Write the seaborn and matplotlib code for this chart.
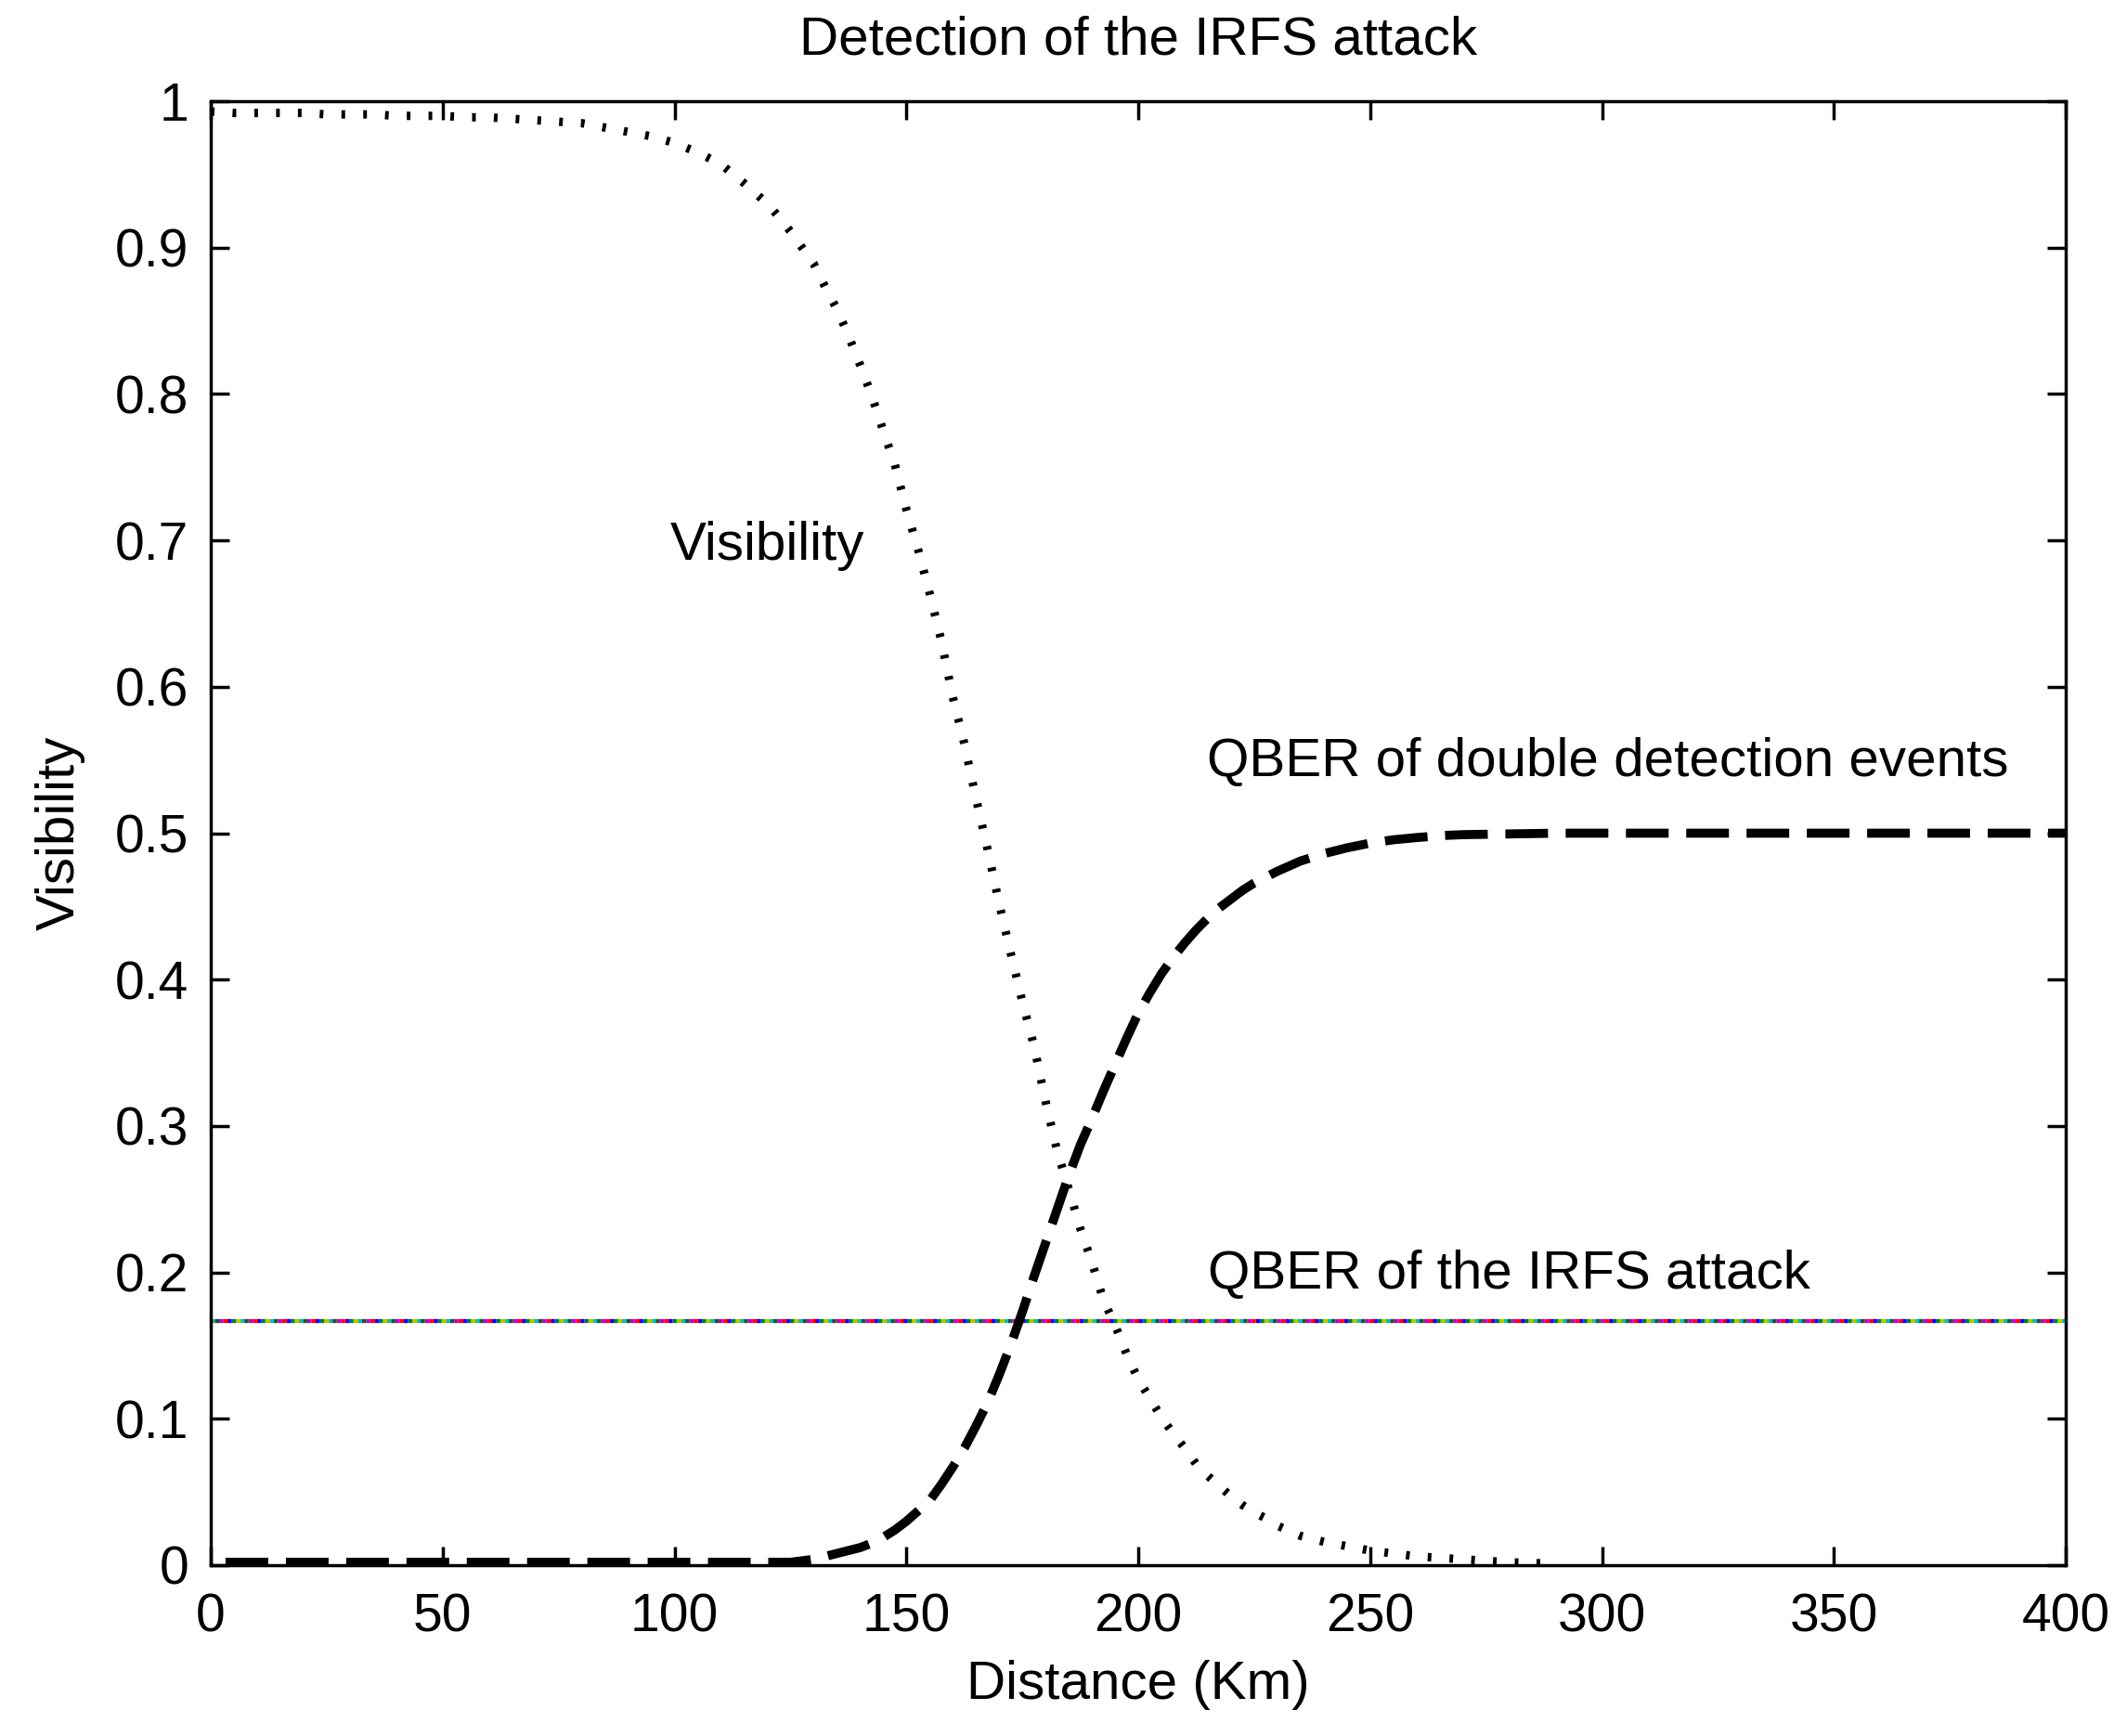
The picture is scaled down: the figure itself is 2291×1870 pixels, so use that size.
import numpy as np
import pandas as pd
import matplotlib
matplotlib.use("Agg")
import matplotlib.pyplot as plt
import seaborn as sns

# ---------------- data ----------------
distance_km = [0, 5, 10, 15, 20, 25, 30, 35, 40, 45, 50, 55, 60, 65, 70, 75, 80, 85, 90, 95,
               100, 105, 110, 115, 120, 122.5, 125, 127.5, 130, 132.5, 135, 137.5, 140, 142.5,
               145, 147.5, 150, 152.5, 155, 157.5, 160, 162.5, 165, 167.5, 170, 172.5, 175,
               177.5, 180, 182.5, 185, 187.5, 190, 192.5, 195, 197.5, 200, 202.5, 205, 207.5,
               210, 212.5, 215, 217.5, 220, 222.5, 225, 227.5, 230, 235, 240, 245, 250, 255,
               260, 265, 270, 280, 290, 300, 320, 340, 360, 380, 400]

# visibility: beyond ~290 km the curve lies under the x axis (not visible) -> NaN
visibility = [0.993, 0.992, 0.992, 0.992, 0.992, 0.991, 0.991, 0.991, 0.990, 0.990, 0.990,
              0.989, 0.989, 0.988, 0.987, 0.986, 0.985, 0.982, 0.979, 0.976,
              0.9715, 0.965, 0.957, 0.944, 0.930, 0.921, 0.911, 0.900, 0.889, 0.873,
              0.858, 0.840, 0.820, 0.799, 0.775, 0.752, 0.721, 0.694, 0.664, 0.632,
              0.593, 0.561, 0.524, 0.489, 0.452, 0.418, 0.385, 0.355, 0.317, 0.283,
              0.257, 0.230, 0.207, 0.181, 0.164, 0.144, 0.127, 0.114, 0.101, 0.090,
              0.080, 0.069, 0.061, 0.054, 0.047, 0.041, 0.036, 0.032, 0.027, 0.020,
              0.016, 0.013, 0.010, 0.008, 0.006, 0.005, 0.004, 0.002, 0.001, np.nan,
              np.nan, np.nan, np.nan, np.nan, np.nan]

qber_double = [0.002, 0.002, 0.002, 0.002, 0.002, 0.002, 0.002, 0.002, 0.002, 0.002, 0.002,
               0.002, 0.002, 0.002, 0.002, 0.002, 0.002, 0.002, 0.002, 0.002,
               0.002, 0.002, 0.002, 0.002, 0.002, 0.002, 0.002, 0.003, 0.004, 0.006,
               0.008, 0.010, 0.012, 0.015, 0.019, 0.024, 0.030, 0.037, 0.044, 0.055,
               0.067, 0.080, 0.095, 0.111, 0.130, 0.1505, 0.173, 0.197, 0.220, 0.243,
               0.266, 0.287, 0.305, 0.324, 0.342, 0.360, 0.377, 0.391, 0.404, 0.415,
               0.425, 0.434, 0.442, 0.449, 0.455, 0.461, 0.466, 0.470, 0.474, 0.481,
               0.486, 0.490, 0.4932, 0.4955, 0.497, 0.4983, 0.499, 0.4995, 0.500, 0.500,
               0.500, 0.500, 0.500, 0.500, 0.500]

irfs_x = [0, 400]
irfs_qber = [0.1667, 0.1667]

x_ticks = [0, 50, 100, 150, 200, 250, 300, 350, 400]
x_tick_labels = ["0", "50", "100", "150", "200", "250", "300", "350", "400"]
y_ticks = [0, 0.1, 0.2, 0.3, 0.4, 0.5, 0.6, 0.7, 0.8, 0.9, 1.0]
y_tick_labels = ["0", "0.1", "0.2", "0.3", "0.4", "0.5", "0.6", "0.7", "0.8", "0.9", "1"]

title = "Detection of the IRFS attack"
x_label = "Distance (Km)"
y_label = "Visibility"
ann_visibility = "Visibility"
ann_double = "QBER of double detection events"
ann_irfs = "QBER of the IRFS attack"

# MATLAB (pre-2014) colour order, as seen in the multi-coloured horizontal line
irfs_colors = ["#00bfbf", "#bfbf00", "#008000", "#0000ff", "#ff0000", "#bf00bf", "#404040"]

# ---------------- figure ----------------
sns.set_theme(style="white")
plt.rcParams["font.family"] = ["Liberation Sans", "DejaVu Sans"]

fig = plt.figure(figsize=(22.91, 18.70), dpi=100)
ax = fig.add_axes([0.0991, 0.0984, 0.8721, 0.8433])

df = pd.DataFrame({"distance": distance_km, "visibility": visibility, "qber": qber_double})
df_vis = df.dropna(subset=["visibility"])

# IRFS QBER line: several overlapping coloured dotted lines
seg = 1.05
for k, c in enumerate(irfs_colors):
    sns.lineplot(x=irfs_x, y=irfs_qber, ax=ax, color=c, linewidth=3.1)
    ax.lines[-1].set_linestyle((k * seg, (seg, seg * (len(irfs_colors) - 1))))

# Visibility (dotted)
sns.lineplot(data=df_vis, x="distance", y="visibility", ax=ax, color="black", linewidth=6.5)
ax.lines[-1].set_linestyle((0, (0.44, 2.16)))

# QBER of double detection events (dashed)
sns.lineplot(data=df, x="distance", y="qber", ax=ax, color="black", linewidth=7.0)
ax.lines[-1].set_linestyle((5.04, (4.73, 1.95)))

ax.set_xlim(0, 400)
ax.set_ylim(0, 1)
ax.set_xticks(x_ticks)
ax.set_xticklabels(x_tick_labels)
ax.set_yticks(y_ticks)
ax.set_yticklabels(y_tick_labels)

ax.tick_params(axis="both", which="both", direction="in", length=14.4, width=2.5,
               top=True, right=True, bottom=True, left=True, labelsize=41, colors="black")
ax.tick_params(axis="x", pad=21)
ax.tick_params(axis="y", pad=17)
for sp in ax.spines.values():
    sp.set_visible(True)
    sp.set_linewidth(2.5)
    sp.set_color("black")

ax.set_title(title, fontsize=42, y=1.032, pad=0, va="baseline", color="black")
ax.set_xlabel(x_label, fontsize=42, color="black")
ax.set_ylabel(y_label, fontsize=42, color="black")
ax.xaxis.set_label_coords(0.5, -0.065)
ax.yaxis.set_label_coords(-0.0676, 0.5)

ax.text(99.0, 0.687, ann_visibility, fontsize=42, ha="left", va="baseline", color="black")
ax.text(214.8, 0.539, ann_double, fontsize=42, ha="left", va="baseline", color="black")
ax.text(215.0, 0.189, ann_irfs, fontsize=42, ha="left", va="baseline", color="black")

fig.savefig("out.png", dpi=100, facecolor="white")
